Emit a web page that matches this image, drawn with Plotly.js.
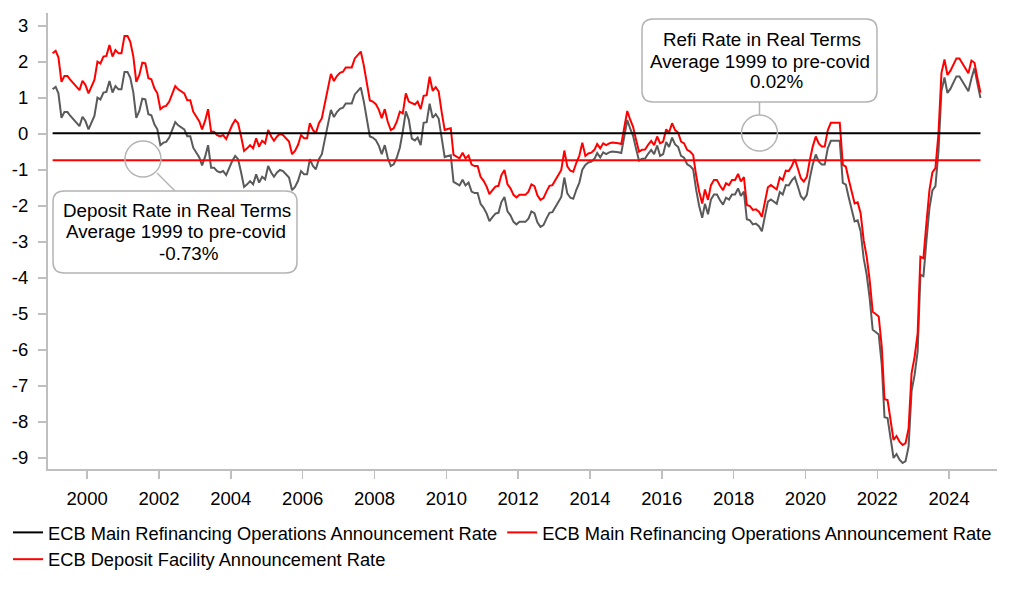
<!DOCTYPE html>
<html>
<head>
<meta charset="utf-8">
<script src="https://cdn.plot.ly/plotly-3.0.1.min.js"></script>
<style>html,body{margin:0;padding:0;background:#fff}#chart{width:1022px;height:598px}</style>
</head>
<body>
<div id="chart"></div>
<script>
// ---- data (monthly, Jan 1999 - Nov 2024) ----
const startYear = 1999;
const startMonth = 1;
const refiReal = [
  2.24, 2.31, 2.13, 1.45, 1.61, 1.61, 1.5, 1.41, 1.31, 1.22, 1.48, 1.36,
  1.13, 1.31, 1.5, 2.01, 1.96, 2.15, 2.17, 2.47, 2.15, 2.33, 2.24, 2.24,
  2.72, 2.72, 2.56, 2.15, 1.45, 1.64, 1.98, 1.96, 1.55, 1.52, 1.27, 1.13,
  0.69, 0.76, 0.78, 0.9, 1.1, 1.33, 1.24, 1.18, 1.13, 0.94, 0.94, 0.62,
  0.5, 0.35, 0.13, 0.37, 0.69, 0.06, 0.06, -0.03, -0.07, -0.03, -0.14, 0.06,
  0.25, 0.39, 0.3, -0.07, -0.47, -0.4, -0.31, -0.4, -0.12, -0.35, -0.19, -0.26,
  0.11, -0.07, -0.19, -0.07, 0, -0.03, -0.12, -0.21, -0.56, -0.47, -0.3, -0.03,
  -0.12, -0.12, 0.3, 0.11, 0.02, 0.3, 0.44, 0.85, 1.3, 1.67, 1.47, 1.61,
  1.7, 1.73, 1.85, 1.85, 1.85, 2.1, 2.19, 2.29, 1.9, 1.4, 0.93, 0.9,
  0.83, 0.67, 0.44, 0.69, 0.34, 0.11, 0.16, 0.34, 0.62, 0.57, 1.13, 0.9,
  0.87, 0.82, 0.9, 0.69, 1.06, 1.08, 1.59, 1.2, 1.3, 1.18, 0.6, 0.11,
  0.14, 0.16, -0.58, -0.63, -0.68, -0.52, -0.68, -0.6, -0.85, -0.89, -0.89, -1.19,
  -1.3, -1.46, -1.67, -1.56, -1.46, -1.44, -1.14, -1.0, -1.4, -1.51, -1.69, -1.76,
  -1.69, -1.69, -1.69, -1.6, -1.4, -1.45, -1.7, -1.83, -1.78, -1.6, -1.44, -1.42,
  -1.26, -1.14, -1.0, -0.46, -0.9, -1.02, -1.05, -0.8, -0.6, -0.24, -0.61, -0.54,
  -0.52, -0.44, -0.28, -0.4, -0.26, -0.31, -0.26, -0.24, -0.24, -0.26, -0.28, 0.15,
  0.64, 0.39, 0.2, -0.17, -0.49, -0.44, -0.43, -0.3, -0.19, -0.31, -0.07, -0.26,
  -0.21, 0.13, 0.04, 0.3, 0.11, 0.04, -0.21, -0.26, -0.44, -0.49, -0.58, -1.14,
  -1.6, -1.93, -1.54, -1.83, -1.42, -1.28, -1.28, -1.44, -1.56, -1.37, -1.42, -1.28,
  -1.28, -1.11, -1.32, -1.2, -1.97, -2.0, -2.11, -2.09, -2.16, -2.3, -1.83, -1.48,
  -1.42, -1.48, -1.54, -1.21, -1.28, -1.02, -1.03, -0.89, -0.7, -0.95, -1.23, -1.32,
  -1.19, -0.72, -0.35, -0.07, -0.26, -0.35, -0.35, 0.1, 0.31, 0.31, 0.31, 0.31,
  -0.86, -0.91, -1.25, -1.6, -1.93, -1.9, -2.2, -2.95, -3.41, -4.06, -4.94, -5.0,
  -5.07, -5.91, -7.37, -7.39, -7.99, -8.5, -8.39, -8.55, -8.64, -8.59, -8.18, -6.65,
  -6.19, -5.54, -3.41, -3.45, -2.48, -1.56, -1.07, -0.95, 0.02, 1.69, 2.07, 1.64,
  1.76, 1.96, 2.1, 2.1, 1.96, 1.82, 1.69, 2.04, 1.98, 1.55, 1.15
];
const depositReal = [
  1.24, 1.31, 1.13, 0.45, 0.61, 0.61, 0.5, 0.41, 0.31, 0.22, 0.48, 0.36,
  0.13, 0.31, 0.5, 1.01, 0.96, 1.15, 1.17, 1.47, 1.15, 1.33, 1.24, 1.24,
  1.72, 1.72, 1.56, 1.15, 0.45, 0.64, 0.98, 0.96, 0.55, 0.52, 0.27, 0.13,
  -0.31, -0.24, -0.22, -0.1, 0.1, 0.33, 0.24, 0.18, 0.13, -0.06, -0.06, -0.38,
  -0.5, -0.65, -0.87, -0.63, -0.31, -0.94, -0.94, -1.03, -1.07, -1.03, -1.14, -0.94,
  -0.75, -0.61, -0.7, -1.07, -1.47, -1.4, -1.31, -1.4, -1.12, -1.35, -1.19, -1.26,
  -0.89, -1.07, -1.19, -1.07, -1.0, -1.03, -1.12, -1.21, -1.56, -1.47, -1.3, -1.03,
  -1.12, -1.12, -0.7, -0.89, -0.98, -0.7, -0.56, -0.15, 0.3, 0.67, 0.47, 0.61,
  0.7, 0.73, 0.85, 0.85, 0.85, 1.1, 1.19, 1.29, 0.9, 0.4, -0.07, -0.1,
  -0.17, -0.33, -0.56, -0.31, -0.66, -0.89, -0.84, -0.66, -0.38, 0.07, 0.63, 0.4,
  -0.13, -0.18, -0.1, -0.31, 0.31, 0.33, 0.84, 0.45, 0.55, 0.43, -0.15, -0.64,
  -0.61, -0.59, -1.33, -1.38, -1.43, -1.27, -1.43, -1.35, -1.6, -1.64, -1.64, -1.94,
  -2.05, -2.21, -2.42, -2.31, -2.21, -2.19, -1.89, -1.75, -2.15, -2.26, -2.44, -2.51,
  -2.44, -2.44, -2.44, -2.35, -2.15, -2.2, -2.45, -2.58, -2.53, -2.35, -2.19, -2.17,
  -2.01, -1.89, -1.75, -1.21, -1.65, -1.77, -1.8, -1.55, -1.35, -0.99, -0.86, -0.79,
  -0.77, -0.69, -0.53, -0.65, -0.51, -0.56, -0.51, -0.49, -0.49, -0.51, -0.53, -0.1,
  0.39, 0.14, -0.05, -0.42, -0.74, -0.69, -0.68, -0.55, -0.44, -0.56, -0.32, -0.61,
  -0.56, -0.22, -0.36, -0.1, -0.29, -0.36, -0.61, -0.66, -0.84, -0.89, -0.98, -1.54,
  -2.0, -2.33, -1.94, -2.23, -1.82, -1.68, -1.68, -1.84, -1.96, -1.77, -1.82, -1.68,
  -1.68, -1.51, -1.72, -1.6, -2.37, -2.4, -2.51, -2.49, -2.56, -2.7, -2.23, -1.88,
  -1.82, -1.88, -1.94, -1.61, -1.68, -1.42, -1.43, -1.29, -1.2, -1.45, -1.73, -1.82,
  -1.69, -1.22, -0.85, -0.57, -0.76, -0.85, -0.85, -0.4, -0.19, -0.19, -0.19, -0.19,
  -1.36, -1.41, -1.75, -2.1, -2.43, -2.4, -2.7, -3.45, -3.91, -4.56, -5.44, -5.5,
  -5.57, -6.41, -7.87, -7.89, -8.49, -9.0, -8.89, -9.05, -9.14, -9.09, -8.68, -7.15,
  -6.69, -6.04, -3.91, -3.95, -2.98, -2.06, -1.57, -1.45, -0.48, 1.19, 1.57, 1.14,
  1.26, 1.46, 1.6, 1.6, 1.46, 1.32, 1.19, 1.54, 1.83, 1.4, 1.0
];
const refiAverage = 0.02;      // 1999 to pre-covid
const depositAverage = -0.73;  // 1999 to pre-covid
const legendNames = [
  'ECB Main Refinancing Operations Announcement Rate',
  'ECB Main Refinancing Operations Announcement Rate',
  'ECB Deposit Facility Announcement Rate'
];
const yTicks = [-9, -8, -7, -6, -5, -4, -3, -2, -1, 0, 1, 2, 3];
const depositNote = ['Deposit Rate in Real Terms', 'Average 1999 to pre-covid', '-0.73%'];
const refiNote = ['Refi Rate in Real Terms', 'Average 1999 to pre-covid', '0.02%'];

// monthly category dates
const dates = refiReal.map((_, i) => {
  const k = startMonth - 1 + i;
  const y = startYear + Math.floor(k / 12);
  const m = (k % 12) + 1;
  return y + '-' + String(m).padStart(2, '0') + '-15';
});
const ends = [dates[0], dates[dates.length - 1]];

const FONT = 'Liberation Sans, Arial, sans-serif';
const RED = '#ff0000';
const GREY = '#5a5a5a';
const BORDER = '#b4b4b4';

const traces = [
  {x: dates, y: depositReal, type: 'scatter', mode: 'lines', showlegend: false,
   line: {color: GREY, width: 2}},
  {x: dates, y: refiReal, type: 'scatter', mode: 'lines', name: legendNames[1], legendrank: 2,
   line: {color: RED, width: 2}},
  {x: ends, y: [refiAverage, refiAverage], type: 'scatter', mode: 'lines', name: legendNames[0], legendrank: 1,
   line: {color: '#000000', width: 2}},
  {x: ends, y: [depositAverage, depositAverage], type: 'scatter', mode: 'lines', name: legendNames[2], legendrank: 3,
   line: {color: RED, width: 2}}
];

// pixel -> paper helpers (plot area: x 48..997, y 13..469)
const L = 48, T = 13, W = 949, H = 456;
const X = px => (px - L) / W;
const Y = py => (T + H - py) / H;
function roundedBox(x0, y0, x1, y1, r) {
  const p = (a, b) => X(a).toFixed(5) + ',' + Y(b).toFixed(5);
  return 'M' + p(x0 + r, y0) + ' L' + p(x1 - r, y0) + ' Q' + p(x1, y0) + ' ' + p(x1, y0 + r) +
    ' L' + p(x1, y1 - r) + ' Q' + p(x1, y1) + ' ' + p(x1 - r, y1) +
    ' L' + p(x0 + r, y1) + ' Q' + p(x0, y1) + ' ' + p(x0, y1 - r) +
    ' L' + p(x0, y0 + r) + ' Q' + p(x0, y0) + ' ' + p(x0 + r, y0) + ' Z';
}
const shapeLine = {color: BORDER, width: 1.5};
const shapes = [
  {type: 'path', xref: 'paper', yref: 'paper', path: roundedBox(53, 191, 297, 273, 11),
   fillcolor: '#ffffff', line: shapeLine, layer: 'above'},
  {type: 'circle', xref: 'paper', yref: 'paper', x0: X(125), x1: X(161), y0: Y(177), y1: Y(141),
   line: shapeLine, layer: 'above'},
  {type: 'line', xref: 'paper', yref: 'paper', x0: X(157), y0: Y(173), x1: X(175), y1: Y(191),
   line: shapeLine, layer: 'above'},
  {type: 'path', xref: 'paper', yref: 'paper', path: roundedBox(642, 19, 877, 102, 11),
   fillcolor: '#ffffff', line: shapeLine, layer: 'above'},
  {type: 'circle', xref: 'paper', yref: 'paper', x0: X(741.5), x1: X(777.5), y0: Y(151), y1: Y(115),
   line: shapeLine, layer: 'above'},
  {type: 'line', xref: 'paper', yref: 'paper', x0: X(759.5), y0: Y(102), x1: X(759.5), y1: Y(115),
   line: shapeLine, layer: 'above'}
];
function note(text, cx, cy) {
  return {xref: 'paper', yref: 'paper', x: X(cx), y: Y(cy), text: text, showarrow: false,
    xanchor: 'center', yanchor: 'middle', font: {family: FONT, size: 18.8, color: '#000'}};
}
const annotations = [
  note(depositNote[0], 176.5, 210.5),
  note(depositNote[1], 175.5, 231.5),
  note(depositNote[2], 189, 254),
  note(refiNote[0], 761.5, 39.5),
  note(refiNote[1], 759.5, 61.3),
  note(refiNote[2], 777, 81.7)
];

const layout = {
  width: 1022, height: 598,
  margin: {l: L, r: 1022 - L - W, t: T, b: 598 - T - H, pad: 0, autoexpand: false},
  paper_bgcolor: '#ffffff', plot_bgcolor: '#ffffff',
  font: {family: FONT, size: 18, color: '#000'},
  showlegend: true,
  legend: {orientation: 'h', xref: 'paper', yref: 'paper', x: X(8), y: Y(514),
    xanchor: 'left', yanchor: 'top',
    font: {family: FONT, size: 18.3, color: '#000'}, bgcolor: 'rgba(0,0,0,0)',
    tracegroupgap: 0},
  xaxis: {type: 'date', range: ['1998-11-29', '2025-05-02'], tickmode: 'linear',
    tick0: '2000-01-01', dtick: 'M24', tickformat: '%Y', showgrid: false, zeroline: false,
    showline: true, linecolor: '#bfbfbf', linewidth: 2, ticks: 'outside', ticklen: 8,
    tickwidth: 1.5, tickcolor: '#bfbfbf', ticklabelstandoff: 4,
    tickfont: {family: FONT, size: 18.5, color: '#000'}},
  yaxis: {range: [-9.306, 3.361], tickmode: 'array', tickvals: yTicks, ticktext: yTicks.map(String),
    showgrid: false, zeroline: false, showline: true, linecolor: '#bfbfbf', linewidth: 2,
    ticks: 'outside', ticklen: 8, tickwidth: 1.5, tickcolor: '#bfbfbf', ticklabelstandoff: 6,
    tickfont: {family: FONT, size: 18.5, color: '#000'}},
  shapes: shapes,
  annotations: annotations,
  hovermode: false
};
Plotly.newPlot('chart', traces, layout, {staticPlot: true, displayModeBar: false});
</script>
</body>
</html>
